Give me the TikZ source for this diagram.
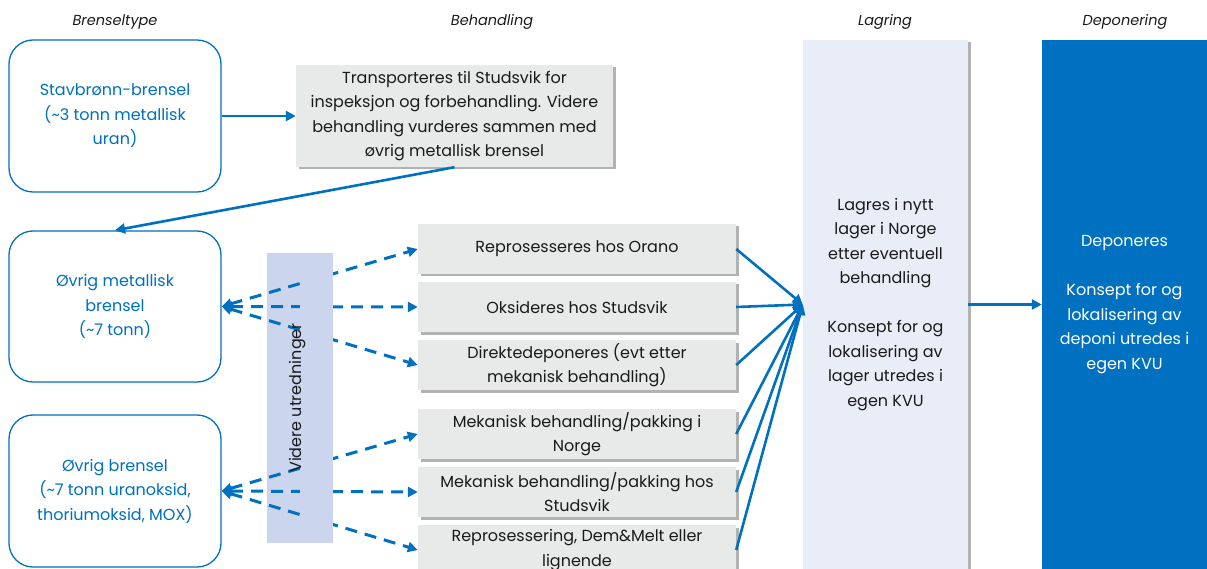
\documentclass[tikz,border=0pt]{standalone}
\usepackage{fontspec}
\setmainfont{Poppins}
\usetikzlibrary{arrows.meta,shadows}
\definecolor{nvblue}{HTML}{0070C0}
\definecolor{boxgray}{HTML}{E8E9E9}
\definecolor{storefill}{HTML}{E9EDF8}
\definecolor{bandfill}{HTML}{CCD5EE}
\definecolor{inkblack}{HTML}{1A1A1A}

\begin{document}
\begin{tikzpicture}[x=1pt,y=-1pt,
  bodyfont/.style={font=\fontsize{16}{24.5}\selectfont},
  header/.style={font=\fontsize{14.5}{16}\selectfont\itshape, text=inkblack},
  fuelbox/.style={draw=nvblue, line width=1.3pt, rounded corners=24pt, fill=white,
    minimum width=212pt, minimum height=152pt, text=nvblue, align=center, bodyfont},
  softshadow/.style={drop shadow={shadow xshift=2.5pt, shadow yshift=-2.5pt, fill=black, opacity=0.3}},
  stepbox/.style={fill=boxgray, minimum width=318pt, minimum height=50pt, inner sep=0pt,
    align=center, bodyfont, text=inkblack, softshadow},
  flow/.style={draw=nvblue, line width=2.6pt, -{Triangle[length=10pt,width=10pt]}},
  option/.style={draw=nvblue, line width=3pt, dash pattern=on 12pt off 8pt,
    {Triangle[length=10pt,width=10pt]}-{Triangle[length=10pt,width=10pt]}},
]
\useasboundingbox (0,0) rectangle (1207,569);

% column headings
\node[header] (hType)  at (115,22)  {Brenseltype};
\node[header] (hTreat) at (492,22)  {Behandling};
\node[header] (hStore) at (885,22)  {Lagring};
\node[header] (hDisp)  at (1125,22) {Deponering};

% fuel types
\node[fuelbox] (stav)  at (115,116)   {Stavbrønn-brensel\\(\textasciitilde3 tonn metallisk\\uran)};
\node[fuelbox, minimum height=151pt] (metal) at (115,306.5) {Øvrig metallisk\\brensel\\(\textasciitilde7 tonn)};
\node[fuelbox] (other) at (115,491)   {Øvrig brensel\\(\textasciitilde7 tonn uranoksid,\\thoriumoksid, MOX)};

% pre-treatment of the rod fuel
\node[stepbox, minimum width=317pt, minimum height=102pt] (transp) at (454.5,116)
  {Transporteres til Studsvik for\\inspeksjon og forbehandling. Videre\\behandling vurderes sammen med\\øvrig metallisk brensel};

% treatment options
\node[stepbox] (r1) at (577,249) {Reprosesseres hos Orano};
\node[stepbox] (r2) at (577,307) {Oksideres hos Studsvik};
\node[stepbox] (r3) at (577,365) {Direktedeponeres (evt etter\\mekanisk behandling)};
\node[stepbox] (r4) at (577,434) {Mekanisk behandling/pakking i\\Norge};
\node[stepbox] (r5) at (577,492) {Mekanisk behandling/pakking hos\\Studsvik};
\node[stepbox] (r6) at (577,550) {Reprosessering, Dem\&Melt eller\\lignende};

% storage and disposal columns
\node[fill=storefill, minimum width=165pt, minimum height=529pt, inner sep=0pt,
  align=center, bodyfont, text=inkblack, softshadow] (store) at (885.5,304.5)
  {Lagres i nytt\\lager i Norge\\etter eventuell\\behandling\\[24.5pt]Konsept for og\\lokalisering av\\lager utredes i\\egen KVU};
\node[fill=nvblue, minimum width=165pt, minimum height=529pt, inner sep=0pt,
  align=center, bodyfont, text=white] (disp) at (1124.5,304.5)
  {Deponeres\\[24.5pt]Konsept for og\\lokalisering av\\deponi utredes i\\egen KVU};

% band for further studies
\node[fill=bandfill, minimum width=66pt, minimum height=290pt, inner sep=0pt] (band) at (300,398) {};

% options still under study
\draw[option] (metal.east) -- (r1.west);
\draw[option] (metal.east) -- (r2.west);
\draw[option] (metal.east) -- (r3.west);
\draw[option] (other.east) -- (r4.west);
\draw[option] (other.east) -- (r5.west);
\draw[option] (other.east) -- (r6.west);

% right half of the band lies over the dashed lines
\fill[bandfill] (band.north) rectangle (band.south east);
\node[rotate=90, font=\fontsize{16}{18}\selectfont, text=inkblack] (bandtext) at (298,398) {Videre utredninger};

% main flow
\draw[flow] (stav.east) -- (transp.west);
\draw[flow] (transp.south) -- (metal.north);
\foreach \r in {r1,r2,r3,r4,r5,r6}
  \draw[flow] (\r.east) -- (store.west);
\draw[flow] (store.east) -- (disp.west);
\end{tikzpicture}
\end{document}
